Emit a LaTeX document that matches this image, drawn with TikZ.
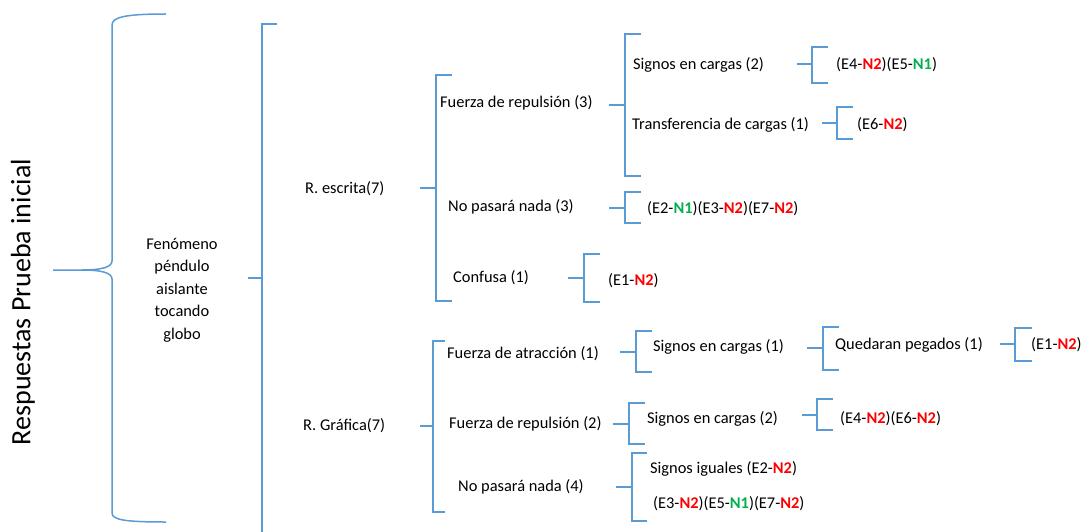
\documentclass[tikz,border=0pt]{standalone}
\usepackage{fontspec}
\setmainfont{Carlito}
\definecolor{brkblue}{HTML}{5B9BD5}
\definecolor{nred}{HTML}{FF0000}
\definecolor{ngreen}{HTML}{00B050}
\newcommand{\levred}[1]{\textcolor{nred}{\textbf{#1}}}
\newcommand{\levgreen}[1]{\textcolor{ngreen}{\textbf{#1}}}
% bracket: left tick start x, spine x, top y, bottom y, tick y, right tick end x
\newcommand{\treebracket}[6]{%
  \draw[brk] (#1,#5) -- (#2,#5) (#6,#3) -- (#2,#3) -- (#2,#4) -- (#6,#4);}
\begin{document}
\begin{tikzpicture}[x=1pt,y=-1pt,
  brk/.style={draw=brkblue,line width=1.5pt},
  lbl/.style={anchor=west,inner sep=0pt,yshift=-2pt,font=\fontsize{16.4}{19}\selectfont,text height=11.7pt,text depth=3.9pt}]
\useasboundingbox (0,0) rectangle (1084,532);

% title and main brace
\node[rotate=90,inner sep=0pt,font=\fontsize{28}{32}\selectfont] (title) at (23,302) {Respuestas Prueba inicial};
\draw[brk] (166,14) .. controls (126,14) and (112,17) .. (112,25) -- (112,261)
  .. controls (112,267) and (102,270) .. (82,270) -- (53,270)
  (82,270) .. controls (102,270) and (112,273) .. (112,279) -- (112,513)
  .. controls (112,520) and (126,522) .. (166,522);

\node[align=center,inner sep=0pt,font=\fontsize{16.4}{22.5}\selectfont] (fen) at (182,290)
  {Fenómeno\\péndulo\\aislante\\tocando\\globo};

% second level
\draw[brk] (248,278) -- (262,278) (277,24) -- (262,24) -- (262,533);

% R. escrita branch
\node[lbl] (resc) at (305,188) {R. escrita(7)};
\treebracket{420}{436}{75}{301}{188}{452}
\node[lbl] (frep3) at (440,102) {Fuerza de repulsión (3)};
\node[lbl] (nop3) at (448,206) {No pasará nada (3)};
\node[lbl] (conf) at (453,277) {Confusa (1)};

\treebracket{609}{625}{34}{176}{105}{641}
\node[lbl] (sig2a) at (633,64) {Signos en cargas (2)};
\node[lbl] (trans) at (632,124) {Transferencia de cargas (1)};

\treebracket{797}{812}{47}{83}{64}{828}
\node[lbl] (e45) at (836,64) {(E4-\levred{N2})(E5-\levgreen{N1})};
\treebracket{822}{837}{107}{139}{123}{853}
\node[lbl] (e6) at (857,124) {(E6-\levred{N2})};

\treebracket{609}{625}{192}{223}{208}{641}
\node[lbl] (e237) at (647,208) {(E2-\levgreen{N1})(E3-\levred{N2})(E7-\levred{N2})};

\treebracket{568}{584}{254}{302}{278}{600}
\node[lbl] (e1a) at (608,280) {(E1-\levred{N2})};

% R. Grafica branch
\node[lbl] (rgraf) at (303,425) {R. Gráfica(7)};
\treebracket{420}{433}{341}{512}{426}{445}
\node[lbl] (fatr) at (447,353) {Fuerza de atracción (1)};
\node[lbl] (frep2) at (449,423) {Fuerza de repulsión (2)};
\node[lbl] (nop4) at (458,486) {No pasará nada (4)};

\treebracket{620}{636}{331}{372}{352}{652}
\node[lbl] (sig1) at (653,346) {Signos en cargas (1)};
\treebracket{807}{823}{327}{370}{348}{839}
\node[lbl] (queda) at (835,344) {Quedaran pegados (1)};
\treebracket{1000}{1015}{328}{361}{344}{1032}
\node[lbl] (e1b) at (1031,344) {(E1-\levred{N2})};

\treebracket{613}{629}{403}{444}{424}{645}
\node[lbl] (sig2b) at (647,418) {Signos en cargas (2)};
\treebracket{802}{817}{399}{430}{415}{833}
\node[lbl] (e46) at (840,418) {(E4-\levred{N2})(E6-\levred{N2})};

\treebracket{616}{632}{453}{521}{487}{647}
\node[lbl] (sigig) at (650,468) {Signos iguales (E2-\levred{N2})};
\node[lbl] (e357) at (653,503) {(E3-\levred{N2})(E5-\levgreen{N1})(E7-\levred{N2})};
\end{tikzpicture}
\end{document}
